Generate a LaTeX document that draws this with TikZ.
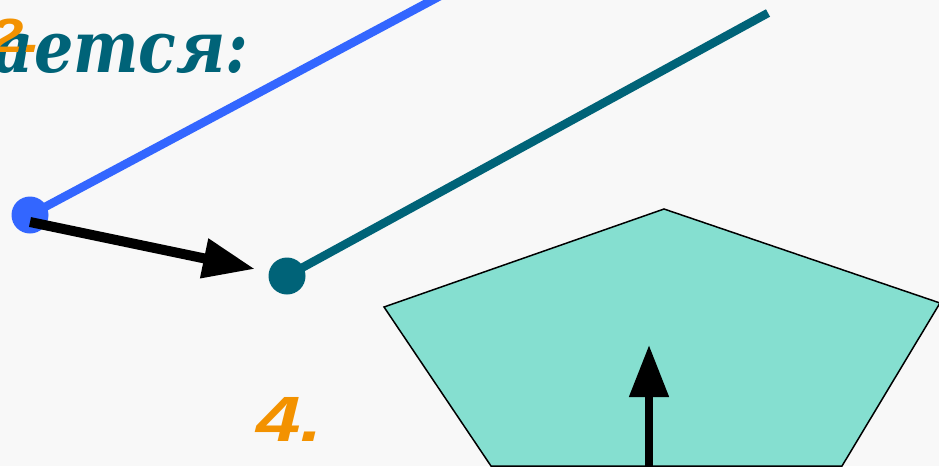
\documentclass[tikz,border=0pt]{standalone}
\usepackage{fontspec}
\newfontfamily\headfont[FakeStretch=0.86]{DejaVu Serif}
\newfontfamily\numfont[FakeStretch=1.25]{Liberation Sans}
\usetikzlibrary{arrows.meta}
\definecolor{dotblue}{RGB}{51,102,255}
\definecolor{deepteal}{RGB}{0,99,120}
\definecolor{numorange}{RGB}{243,146,0}
\definecolor{mint}{RGB}{133,223,208}
\definecolor{paper}{RGB}{248,248,248}

\begin{document}
\begin{tikzpicture}[x=1pt,y=-1pt,
    dot/.style={circle,inner sep=0pt,minimum size=37pt},
    ray/.style={line width=8.5pt},
    bigarrow/.style={line width=10pt,-{Triangle[length=52pt,width=38pt]}},
    num/.style={inner sep=0pt,text=numorange,font=\numfont\bfseries\itshape\fontsize{#1}{#1}\selectfont}]
    % Background
    \fill[paper] (0,0) rectangle (939,466);
    \useasboundingbox (0,0) rectangle (939,466);

    % Heading
    \node[inner sep=0pt,anchor=base east,text=deepteal,
        font=\headfont\bfseries\itshape\fontsize{72}{72}\selectfont] (title) at (249,72) {ается:};
    \node[num=48,anchor=base east] (two) at (41,52) {2.};

    % Pentagon
    \draw[line width=1.5pt,fill=mint] (384,307) -- (664,209) -- (940,303) -- (842,466) -- (491,466) -- cycle;

    % The two rays
    \node[dot,fill=dotblue] (bdot) at (30,215) {};
    \node[dot,fill=deepteal] (tdot) at (287,276) {};
    \coordinate (bend) at (470,-20);
    \coordinate (tend) at (768,13);
    \draw[ray,dotblue] (bdot.center) -- (bend);
    \draw[ray,deepteal] (tdot.center) -- (tend);

    % Translation arrow
    \draw[bigarrow] ([yshift=-7pt]bdot.center) -- ([xshift=-32pt,yshift=7pt]tdot.center);

    % Arrow in the pentagon
    \coordinate (pbase) at (649,470);
    \coordinate (ptip) at (649,345);
    \draw[bigarrow,line width=8pt] (pbase) -- (ptip);

    \node[num=64,anchor=base west] (four) at (256,441) {4.};
\end{tikzpicture}
\end{document}
